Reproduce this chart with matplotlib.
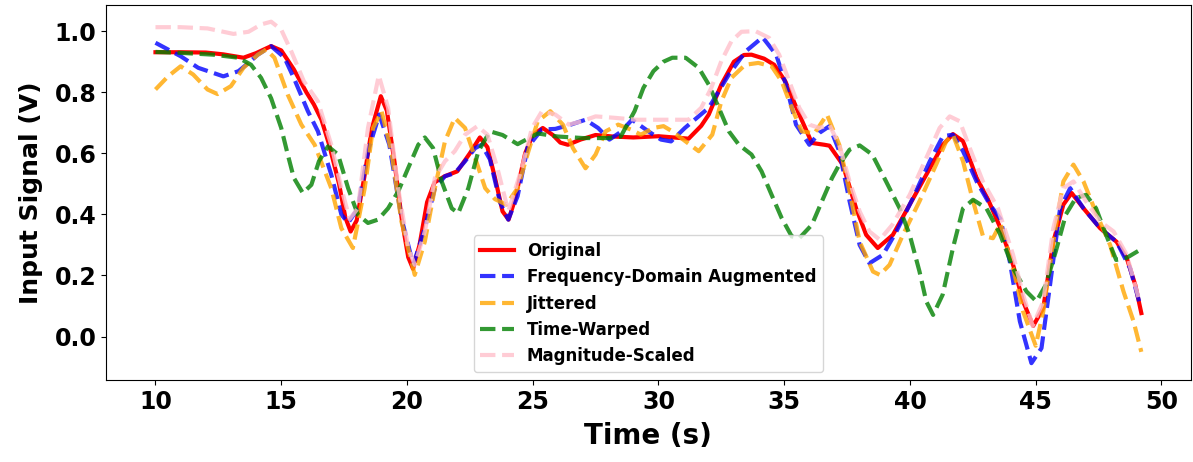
import matplotlib
matplotlib.use("Agg")
import matplotlib.pyplot as plt

# Original signal
t_orig = [10, 11, 12, 12.7, 13.5, 14.0, 14.6, 15.0, 15.5, 16.0, 16.3, 16.6, 16.9, 17.3, 17.55,
          17.76, 18.0, 18.3, 18.6, 18.96, 19.2, 19.5, 19.8, 20.05, 20.24, 20.5, 20.8, 21.1, 21.5,
          22.0, 22.5, 22.9, 23.2, 23.5, 23.8, 24.04, 24.3, 24.7, 25.0, 25.4, 25.8, 26.1, 26.4,
          26.9, 27.5, 28.2, 29.0, 30.0, 30.6, 31.2, 31.7, 32.0, 32.5, 33.0, 33.4, 33.7, 34.2,
          34.6, 35.05, 35.6, 36.1, 36.6, 36.8, 37.33, 37.86, 38.26, 38.72, 39.32, 39.99, 40.65,
          41.31, 41.71, 42.11, 42.65, 43.1, 43.6, 44.1, 44.5, 44.9, 45.3, 45.7, 46.1, 46.43,
          46.9, 47.56, 48.22, 48.62, 48.96, 49.2]
v_orig = [0.931, 0.931, 0.930, 0.924, 0.913, 0.928, 0.951, 0.937, 0.875, 0.80, 0.76, 0.71, 0.63,
          0.50, 0.39, 0.344, 0.38, 0.52, 0.68, 0.787, 0.74, 0.574, 0.38, 0.26, 0.222, 0.30, 0.44,
          0.505, 0.525, 0.541, 0.60, 0.652, 0.62, 0.52, 0.41, 0.383, 0.45, 0.60, 0.66, 0.683,
          0.66, 0.635, 0.628, 0.645, 0.660, 0.655, 0.652, 0.656, 0.652, 0.648, 0.69, 0.727,
          0.825, 0.900, 0.922, 0.923, 0.910, 0.89, 0.835, 0.727, 0.634, 0.628, 0.625, 0.563,
          0.42, 0.333, 0.29, 0.333, 0.432, 0.53, 0.628, 0.663, 0.64, 0.52, 0.45, 0.355, 0.235,
          0.115, 0.035, 0.093, 0.31, 0.432, 0.47, 0.42, 0.355, 0.31, 0.257, 0.169, 0.077]

# Frequency-domain augmented
t_freq = [10, 11, 11.7, 12.7, 13.3, 13.7, 14.07, 14.6, 15.13, 15.5, 16.06, 16.46, 16.99, 17.39,
          17.66, 18.05, 18.45, 18.9, 19.3, 19.78, 20.25, 20.71, 21.11, 21.51, 21.9, 22.31, 22.71,
          22.97, 23.3, 23.7, 24.03, 24.4, 24.8, 25.36, 25.9, 26.55, 27.1, 27.6, 28.05, 28.5,
          28.95, 29.6, 30.1, 30.5, 31.05, 32.0, 32.8, 33.47, 34.14, 34.68, 35.07, 35.47, 36.0,
          36.4, 36.8, 37.19, 37.6, 38.0, 38.39, 38.93, 39.46, 40.12, 40.79, 41.31, 41.71, 42.11,
          42.65, 43.18, 43.6, 43.97, 44.37, 44.83, 45.23, 45.57, 45.97, 46.37, 46.9, 47.56,
          48.22, 48.75, 49.15]
v_freq = [0.962, 0.918, 0.88, 0.852, 0.869, 0.896, 0.923, 0.951, 0.913, 0.847, 0.738, 0.672, 0.53,
          0.40, 0.372, 0.42, 0.607, 0.727, 0.628, 0.388, 0.235, 0.355, 0.486, 0.525, 0.535,
          0.574, 0.617, 0.628, 0.58, 0.44, 0.383, 0.46, 0.62, 0.678, 0.68, 0.695, 0.71, 0.683,
          0.645, 0.67, 0.71, 0.672, 0.645, 0.639, 0.683, 0.749, 0.858, 0.934, 0.98, 0.923, 0.825,
          0.694, 0.628, 0.667, 0.689, 0.607, 0.443, 0.30, 0.24, 0.268, 0.344, 0.454, 0.574, 0.656,
          0.661, 0.607, 0.508, 0.432, 0.385, 0.246, 0.05, -0.087, -0.038, 0.169, 0.42, 0.486,
          0.42, 0.355, 0.31, 0.224, 0.104]

# Jittered
t_jit = [10, 10.5, 11.0, 11.5, 12.07, 12.47, 13.0, 13.5, 14.07, 14.4, 14.73, 15.26, 15.8, 16.33,
         16.99, 17.39, 17.85, 18.32, 18.65, 18.99, 19.38, 19.78, 20.31, 20.71, 21.11, 21.51, 21.9,
         22.31, 22.71, 23.11, 23.5, 23.95, 24.4, 24.83, 25.2, 25.7, 26.2, 26.6, 27.1, 27.5, 27.9,
         28.4, 28.9, 29.3, 29.8, 30.2, 30.55, 31.08, 31.6, 32.14, 32.5, 32.9, 33.45, 33.97, 34.5,
         34.9, 35.3, 35.7, 36.2, 36.7, 37.19, 37.6, 38.0, 38.53, 38.8, 39.19, 39.72, 40.38, 41.04,
         41.44, 41.71, 42.11, 42.51, 42.9, 43.3, 43.6, 44.1, 44.5, 45.0, 45.3, 45.7, 46.1, 46.5,
         46.9, 47.43, 47.96, 48.49, 48.89, 49.2]
v_jit = [0.809, 0.852, 0.885, 0.858, 0.809, 0.794, 0.82, 0.88, 0.923, 0.94, 0.913, 0.792, 0.694,
         0.628, 0.486, 0.355, 0.29, 0.486, 0.683, 0.738, 0.607, 0.377, 0.202, 0.311, 0.486, 0.639,
         0.716, 0.683, 0.585, 0.486, 0.45, 0.432, 0.486, 0.607, 0.705, 0.738, 0.694, 0.617, 0.551,
         0.596, 0.672, 0.694, 0.678, 0.661, 0.683, 0.689, 0.672, 0.639, 0.607, 0.661, 0.77, 0.847,
         0.89, 0.896, 0.885, 0.836, 0.749, 0.672, 0.665, 0.727, 0.628, 0.475, 0.311, 0.213, 0.202,
         0.235, 0.333, 0.443, 0.563, 0.639, 0.661, 0.574, 0.443, 0.33, 0.322, 0.37, 0.224, 0.082,
         -0.03, 0.082, 0.31, 0.508, 0.563, 0.508, 0.399, 0.30, 0.148, 0.05, -0.05]

# Time-warped
t_warp = [10, 11, 12.3, 13.3, 13.8, 14.2, 14.6, 15.0, 15.26, 15.5, 15.86, 16.2, 16.5, 16.86, 17.26,
          17.66, 18.05, 18.45, 18.85, 19.25, 19.65, 20.05, 20.45, 20.71, 21.04, 21.38, 21.78,
          22.04, 22.44, 22.84, 23.3, 23.8, 24.4, 25.2, 26.0, 27.0, 28.0, 28.5, 29.05, 29.4, 29.8,
          30.2, 30.55, 31.08, 31.6, 32.0, 32.4, 32.8, 33.2, 33.7, 34.1, 34.5, 34.9, 35.3, 35.6,
          36.1, 36.5, 36.9, 37.19, 37.6, 38.0, 38.5, 39.05, 39.59, 39.99, 40.38, 40.65, 40.92,
          41.3, 41.71, 42.11, 42.51, 43.04, 43.57, 44.1, 44.63, 45.03, 45.4, 45.8, 46.2, 46.6,
          47.0, 47.4, 47.8, 48.2, 48.6, 49.15]
v_warp = [0.932, 0.929, 0.923, 0.913, 0.89, 0.847, 0.78, 0.683, 0.596, 0.52, 0.47, 0.497, 0.574,
          0.623, 0.596, 0.486, 0.399, 0.372, 0.383, 0.42, 0.475, 0.552, 0.628, 0.652, 0.617,
          0.508, 0.42, 0.404, 0.486, 0.607, 0.672, 0.66, 0.63, 0.665, 0.655, 0.65, 0.65, 0.655,
          0.738, 0.814, 0.869, 0.9, 0.913, 0.913, 0.88, 0.825, 0.749, 0.672, 0.628, 0.596, 0.541,
          0.464, 0.388, 0.328, 0.322, 0.366, 0.443, 0.519, 0.563, 0.612, 0.626, 0.596, 0.508,
          0.42, 0.333, 0.213, 0.115, 0.071, 0.137, 0.29, 0.42, 0.448, 0.42, 0.338, 0.224, 0.148,
          0.115, 0.169, 0.279, 0.40, 0.454, 0.464, 0.42, 0.333, 0.251, 0.257, 0.284]

# Magnitude-scaled
t_mag = [10, 11, 12.07, 13.1, 13.7, 14.2, 14.6, 15.0, 15.4, 15.9, 16.46, 16.99, 17.39, 17.72,
         18.05, 18.45, 18.88, 19.25, 19.65, 20.05, 20.31, 20.71, 21.11, 21.51, 21.9, 22.31, 22.8,
         23.2, 23.6, 24.03, 24.57, 24.97, 25.37, 25.9, 26.43, 26.96, 27.5, 28.3, 29.1, 29.9, 30.55,
         31.2, 31.7, 32.1, 32.5, 32.9, 33.3, 33.86, 34.4, 34.8, 35.2, 35.6, 36.0, 36.4, 36.79,
         37.19, 37.6, 38.0, 38.39, 38.8, 39.3, 39.99, 40.65, 41.18, 41.58, 41.98, 42.38, 42.9,
         43.5, 44.1, 44.5, 44.88, 45.3, 45.7, 46.1, 46.5, 47.0, 47.56, 48.1, 48.62, 49.15]
v_mag = [1.013, 1.013, 1.009, 0.991, 0.998, 1.022, 1.031, 1.005, 0.934, 0.836, 0.77, 0.628, 0.486,
         0.385, 0.42, 0.683, 0.855, 0.749, 0.486, 0.29, 0.235, 0.344, 0.519, 0.574, 0.607, 0.661,
         0.689, 0.661, 0.55, 0.41, 0.552, 0.683, 0.738, 0.727, 0.694, 0.705, 0.721, 0.716, 0.71,
         0.71, 0.71, 0.71, 0.749, 0.814, 0.902, 0.967, 0.998, 1.0, 0.978, 0.923, 0.836, 0.749,
         0.694, 0.683, 0.694, 0.628, 0.508, 0.41, 0.344, 0.317, 0.366, 0.464, 0.585, 0.683,
         0.721, 0.705, 0.617, 0.508, 0.42, 0.268, 0.137, 0.035, 0.115, 0.355, 0.486, 0.508,
         0.443, 0.377, 0.344, 0.268, 0.109]

fig = plt.figure(figsize=(11.93, 4.62), dpi=100)
ax = fig.add_subplot(111)
fig.subplots_adjust(left=0.089, right=0.998, top=0.99, bottom=0.177)

ax.plot(t_orig, v_orig, color="red", lw=3, label="Original")
ax.plot(t_freq, v_freq, "--", color="blue", lw=3, alpha=0.8, label="Frequency-Domain Augmented")
ax.plot(t_jit, v_jit, "--", color="orange", lw=3, alpha=0.8, label="Jittered")
ax.plot(t_warp, v_warp, "--", color="green", lw=3, alpha=0.8, label="Time-Warped")
ax.plot(t_mag, v_mag, "--", color="pink", lw=3, alpha=0.8, label="Magnitude-Scaled")

ax.set_xlabel("Time (s)", fontsize=20, fontweight="bold", labelpad=6)
ax.set_ylabel("Input Signal (V)", fontsize=18, fontweight="bold", labelpad=8)
ax.tick_params(axis="both", labelsize=17)
for lab in ax.get_xticklabels() + ax.get_yticklabels():
    lab.set_fontweight("bold")
ax.legend(loc="lower center", prop={"weight": "bold", "size": 12})

plt.savefig("out.png", dpi=100)
plt.close()
